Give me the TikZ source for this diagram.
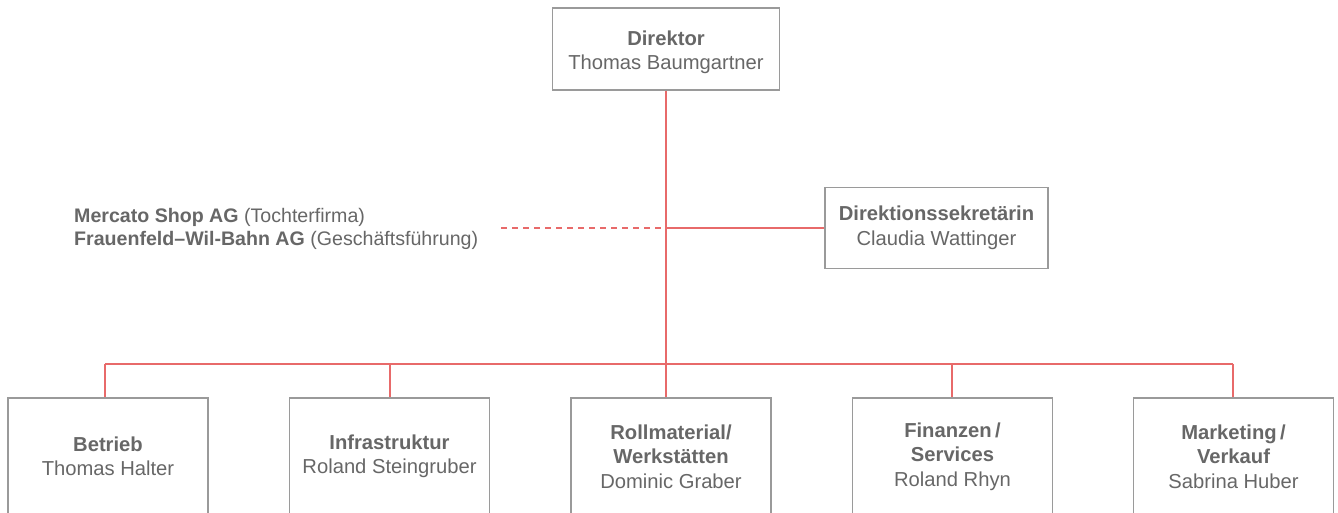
\documentclass[tikz,border=0pt]{standalone}
\usepackage{fontspec}
\setmainfont{Liberation Sans}
\definecolor{txtgray}{HTML}{676767}
\definecolor{boxgray}{HTML}{9A9A9A}
\definecolor{linered}{HTML}{E86A6A}
\begin{document}
\begin{tikzpicture}[x=1pt,y=-1pt,
  box/.style={draw=boxgray,line width=1.4pt,align=center,text=txtgray,
    inner sep=0pt,font=\fontsize{20.2}{24.5}\selectfont},
  boxtext/.style={align=center,text=txtgray,inner sep=0pt,
    font=\fontsize{20.2}{24}\selectfont},
  topbox/.style={box,minimum width=227pt,minimum height=82pt},
  unitbox/.style={box,minimum width=200pt,minimum height=117pt},
  conn/.style={draw=linered,line width=1.3pt},
  dashconn/.style={conn,dash pattern=on 6pt off 5pt}]
\useasboundingbox (0,0) rectangle (1338,512);
\clip (0,0) rectangle (1338,512);
\fill[white] (0,0) rectangle (1338,512);

\node[topbox] (dir) at (666,49) {};
\node[boxtext] (dirtext) at (666,52.5) {\textbf{Direktor}\\Thomas Baumgartner};
\node[box,minimum width=223pt,minimum height=81pt] (sec) at (936.5,228) {\textbf{Direktionssekretärin}\\Claudia Wattinger};

\node[anchor=west,align=left,text=txtgray,inner sep=0pt,
  font=\fontsize{19.6}{23.5}\selectfont] (side) at (74,229)
  {\textbf{Mercato Shop AG} (Tochterfirma)\\\textbf{Frauenfeld–Wil-Bahn AG} (Geschäftsführung)};
\coordinate (dl) at (501,228);

\node[unitbox] (b1) at (108,456.5) {\textbf{Betrieb}\\Thomas Halter};
\node[unitbox] (b2) at (389.5,456.5) {\textbf{Infrastruktur}\\Roland Steingruber};
\node[unitbox] (b3) at (671,456.5) {\textbf{Rollmaterial/}\\\textbf{Werkstätten}\\Dominic Graber};
\node[unitbox] (b4) at (952.5,456.5) {\textbf{Finanzen\,/}\\\textbf{Services}\\Roland Rhyn};
\node[unitbox] (b5) at (1233.5,456.5) {\textbf{Marketing\,/}\\\textbf{Verkauf}\\Sabrina Huber};

\coordinate (c1) at (105,364);
\coordinate (c2) at (390,364);
\coordinate (c3) at (666,364);
\coordinate (c4) at (952,364);
\coordinate (c5) at (1233,364);

\draw[conn] (dir.south) -- (c3 |- b3.north);
\draw[conn] (c1) -- (c5);
\draw[conn] (c1) -- (c1 |- b1.north);
\draw[conn] (c2) -- (c2 |- b2.north);
\draw[conn] (c4) -- (c4 |- b4.north);
\draw[conn] (c5) -- (c5 |- b5.north);
\draw[conn] (dir.south |- sec.west) -- (sec.west);
\draw[dashconn] (dl) -- (dir.south |- sec.west);
\end{tikzpicture}
\end{document}
